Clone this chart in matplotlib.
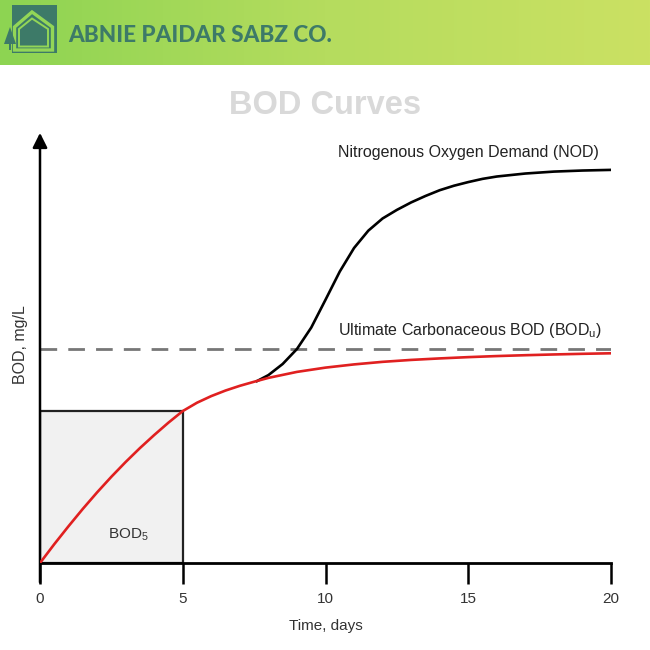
import numpy as np
import matplotlib
matplotlib.use("Agg")
import matplotlib.pyplot as plt
from matplotlib.patches import Rectangle, Polygon
from matplotlib.colors import LinearSegmentedColormap

# ---- data (BOD, arbitrary mg/L units) ----
cbod_t = [0, 0.5, 1, 1.5, 2, 2.5, 3, 3.5, 4, 4.5, 5, 5.5, 6, 6.5, 7, 7.5, 8, 9, 10,
          11, 12, 13, 14, 15, 16, 17, 18, 19, 20]
cbod_y = [0, 0.88, 1.72, 2.53, 3.3, 4.03, 4.72, 5.37, 5.98, 6.56, 7.1, 7.49, 7.8, 8.06, 8.28,
          8.47, 8.65, 8.93, 9.13, 9.28, 9.4, 9.49, 9.56, 9.62, 9.67, 9.71, 9.745, 9.775, 9.8]

nod_t = [7.6, 8.0, 8.5, 9.0, 9.5, 10.0, 10.5, 11.0, 11.5, 12.0, 12.5, 13.0, 13.5, 14.0,
         14.5, 15.0, 15.5, 16.0, 17.0, 18.0, 19.0, 20.0]
nod_y = [8.5, 8.78, 9.3, 10.0, 11.0, 12.3, 13.62, 14.72, 15.53, 16.1, 16.5, 16.85, 17.15,
         17.42, 17.63, 17.8, 17.95, 18.06, 18.2, 18.29, 18.34, 18.37]

bod_u = 10.0
bod5_day = 5
bod5 = 7.1

xticks = [0, 5, 10, 15, 20]

# ---- figure ----
W = H = 650
plt.rcParams['font.family'] = ['Liberation Sans', 'DejaVu Sans']
plt.rcParams['mathtext.fontset'] = 'custom'
plt.rcParams['mathtext.rm'] = 'Liberation Sans'
plt.rcParams['mathtext.it'] = 'Liberation Sans'
fig = plt.figure(figsize=(6.5, 6.5), dpi=100)
fig.patch.set_facecolor('white')

# header band
hax = fig.add_axes([0, 1 - 65 / H, 1, 65 / H])
grad = np.linspace(0, 1, 256)[None, :]
cmap = LinearSegmentedColormap.from_list('g', ['#8dd452', '#b5dc5e', '#cbe163'])
hax.imshow(grad, aspect='auto', cmap=cmap, extent=[0, W, 65, 0])
hax.set_xlim(0, W)
hax.set_ylim(65, 0)
hax.axis('off')
teal = '#3d7a68'
lg = '#93d657'
hax.add_patch(Rectangle((12, 5), 45, 48, facecolor=teal, edgecolor='none'))
hax.add_patch(Polygon([(14.5, 50), (14.5, 27), (32, 12), (52.5, 27), (52.5, 50)], closed=True,
                      fill=False, edgecolor=lg, lw=2.4, joinstyle='miter'))
hax.add_patch(Polygon([(19, 46.5), (19, 29), (32, 18.5), (48, 29), (48, 46.5)], closed=True,
                      fill=False, edgecolor=lg, lw=1.4, joinstyle='miter'))
# tree
hax.add_patch(Polygon([(4, 44), (10, 27), (16, 44)], closed=True, facecolor=teal, edgecolor='none'))
hax.add_patch(Rectangle((8.8, 43), 2.4, 7, facecolor=teal, edgecolor='none'))
hax.text(68, 35, 'ABNIE PAIDAR SABZ CO.', color=teal, fontsize=16.2, fontweight='black',
         family=['Lato', 'DejaVu Sans'], va='center', ha='left')

# title
fig.text(325 / W, 1 - 105 / H, 'BOD Curves', color='#d9d9d9', fontsize=23.5, fontweight='bold',
         ha='center', va='center')

# main axes
ax = fig.add_axes([40 / W, 1 - 563 / H, 571 / W, 428 / H])
ax.set_xlim(0, 20)
ax.set_ylim(0, 20)
for s in ['top', 'right', 'left']:
    ax.spines[s].set_visible(False)
ax.spines['bottom'].set_linewidth(2)
ax.set_yticks([])
ax.set_xticks(xticks)
ax.tick_params(axis='x', direction='out', length=15, width=1.8, labelsize=11, pad=6,
               labelcolor='#333333')
ax.patch.set_alpha(0)

# y axis arrow
ax.annotate('', xy=(0, 20.1), xytext=(0, -0.9), xycoords='data',
            arrowprops=dict(arrowstyle='-|>', lw=1.8, color='black', mutation_scale=22,
                            shrinkA=0, shrinkB=0), annotation_clip=False)

# BOD5 box
ax.add_patch(Rectangle((0, 0), bod5_day, bod5, facecolor='#f1f1f1', edgecolor='#222222', lw=1.6,
                       zorder=1))

# dashed ultimate BOD
ax.plot([0, 20], [bod_u, bod_u], color='#777777', lw=2, dashes=(6, 4), zorder=2)

# curves
ax.plot(nod_t, nod_y, color='black', lw=1.9, zorder=3, solid_joinstyle='round')
ax.plot(cbod_t, cbod_y, color='#e02020', lw=1.9, zorder=4, solid_joinstyle='round')

ax.text(10.43, 19.2, 'Nitrogenous Oxygen Demand (NOD)', fontsize=11.5, ha='left', va='center',
        color='#222222')
ax.text(10.43, 10.85, r'Ultimate Carbonaceous BOD (BOD$_\mathrm{u}$)', fontsize=11.5, ha='left',
        va='center', color='#222222')
ax.text(3.1, 1.3, r'BOD$_\mathrm{5}$', fontsize=11, ha='center', va='center', color='#333333')

ax.set_xlabel('Time, days', fontsize=11, color='#333333', labelpad=9)
fig.text(21 / W, 1 - 345 / H, 'BOD, mg/L', rotation=90, fontsize=11.5, color='#333333',
         ha='center', va='center')

fig.savefig('out.png', dpi=100, facecolor='white')
